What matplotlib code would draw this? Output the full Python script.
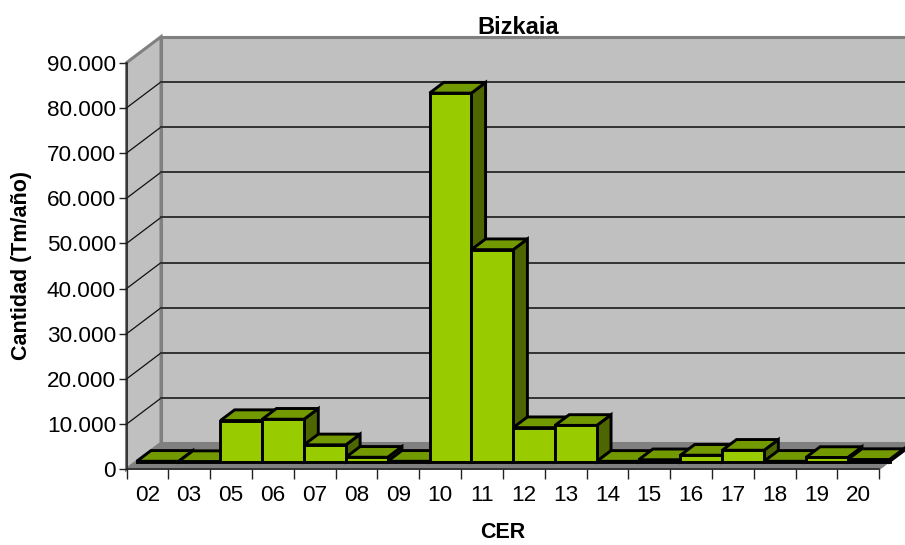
import matplotlib
matplotlib.use("Agg")
import matplotlib.pyplot as plt
from matplotlib.patches import Polygon

categories = ["02", "03", "05", "06", "07", "08", "09", "10", "11", "12",
              "13", "14", "15", "16", "17", "18", "19", "20"]
values = [60, 0, 9070, 9370, 3700, 950, 60, 81550, 46900, 7500,
          8000, 50, 400, 1400, 2500, 60, 900, 450]
y_ticks = [0, 10000, 20000, 30000, 40000, 50000, 60000, 70000, 80000, 90000]
title = "Bizkaia"
x_label = "CER"
y_label = "Cantidad (Tm/año)"

W, H = 905, 545
X0, X1, Y0, Y1 = 126.5, 879.3, 469.3, 62.7
plt.rcParams["font.family"] = ["Liberation Sans", "DejaVu Sans"]
fig = plt.figure(figsize=(W / 100, H / 100), dpi=100)
ax = fig.add_axes([X0 / W, 1 - Y0 / H, (X1 - X0) / W, (Y0 - Y1) / H])
n = len(categories)
ymax = y_ticks[-1]
ax.set_xlim(0, n)
ax.set_ylim(0, ymax)
px_x = (X1 - X0) / n
px_y = (Y0 - Y1) / ymax


def proj(x, v, dpx):
    """category position + value + depth in screen pixels -> data coords"""
    return (x + dpx / px_x, v + dpx * (26.0 / 34.5) / px_y)


D = 34.5
WALL, FLOOR, EDGE = "#C0C0C0", "#808080", "#808080"
kw = dict(clip_on=False)
# walls and floor
ax.add_patch(Polygon([proj(0, 0, D), proj(n, 0, D), proj(n, ymax, D), proj(0, ymax, D)],
                     fc=WALL, ec=EDGE, lw=2.2, zorder=1, **kw))
ax.add_patch(Polygon([proj(0, 0, 0), proj(0, 0, D), proj(0, ymax, D), proj(0, ymax, 0)],
                     fc=WALL, ec=EDGE, lw=2.2, zorder=1, **kw))
ax.add_patch(Polygon([proj(0, 0, 0), proj(n, 0, 0), proj(n, 0, D), proj(0, 0, D)],
                     fc=FLOOR, ec=FLOOR, lw=1, zorder=1, **kw))
# gridlines
for t in y_ticks[1:-1]:
    a, b, c = proj(0, t, 0), proj(0, t, D), proj(n, t, D)
    ax.plot([a[0], b[0]], [a[1], b[1]], color="#111111", lw=0.9, zorder=2, **kw)
    ax.plot([b[0], c[0]], [b[1], c[1]], color="#333333", lw=1.4, zorder=2, **kw)

# bars
GAP, DEPTH = 10.3, 14.2
FRONT, TOP, SIDE = "#99CC00", "#739900", "#4D6600"
for i, v in enumerate(values):
    pk = dict(ec="black", lw=2.1, joinstyle="miter", zorder=3 + i * 0.01, **kw)
    l, r = float(i), float(i + 1)
    d0, d1 = GAP, GAP + DEPTH
    ax.add_patch(Polygon([proj(r, 0, d0), proj(r, 0, d1), proj(r, v, d1), proj(r, v, d0)],
                         fc=SIDE, **pk))
    ax.add_patch(Polygon([proj(l, v, d0), proj(r, v, d0), proj(r, v, d1), proj(l, v, d1)],
                         fc=TOP, **pk))
    ax.add_patch(Polygon([proj(l, 0, d0), proj(r, 0, d0), proj(r, v, d0), proj(l, v, d0)],
                         fc=FRONT, **pk))

# axes
for s in ("top", "right"):
    ax.spines[s].set_visible(False)
for s in ("left", "bottom"):
    ax.spines[s].set_linewidth(1.1)
    ax.spines[s].set_color("#222222")
    ax.spines[s].set_zorder(2.5)
ax.patch.set_visible(False)
ax.set_yticks(y_ticks)
ax.set_yticklabels([f"{t:,}".replace(",", ".") for t in y_ticks], fontsize=16.2)
ax.set_xticks(range(n + 1))
ax.set_xticklabels([])
ax.set_xticks([i + 0.5 for i in range(n)], minor=True)
ax.set_xticklabels(categories, minor=True, fontsize=16.2)
ax.tick_params(axis="x", which="major", length=7, width=1, color="#222222")
ax.tick_params(axis="x", which="minor", length=0, pad=11.5)
ax.tick_params(axis="y", length=6, width=1, color="#222222", pad=1.5)
ax.set_title(title, fontsize=17, fontweight="bold", x=(518 - X0) / (X1 - X0),
             y=(Y0 - 39) / (Y0 - Y1), va="bottom", pad=0)
ax.set_xlabel(x_label, fontsize=15.5, fontweight="bold")
ax.xaxis.set_label_coords((503 - X0) / (X1 - X0), (Y0 - 532) / (Y0 - Y1))
ax.xaxis.label.set_va("center")
ax.set_ylabel(y_label, fontsize=15.5, fontweight="bold")
ax.yaxis.set_label_coords((22 - X0) / (X1 - X0), (Y0 - 266) / (Y0 - Y1))
ax.yaxis.label.set_va("center")
fig.savefig("out.png", dpi=100)
